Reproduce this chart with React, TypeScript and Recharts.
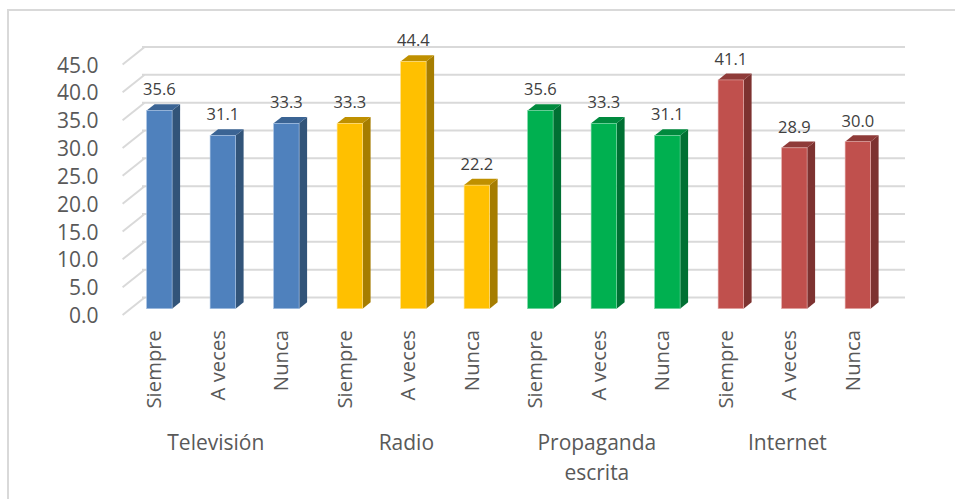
import { BarChart, Bar, XAxis, YAxis, CartesianGrid, LabelList } from 'recharts';

const groups = ['Televisión', 'Radio', 'Propaganda escrita', 'Internet'];
const answers = ['Siempre', 'A veces', 'Nunca'];
const values = [35.6, 31.1, 33.3, 33.3, 44.4, 22.2, 35.6, 33.3, 31.1, 41.1, 28.9, 30.0];
const yTicks = [0, 5, 10, 15, 20, 25, 30, 35, 40, 45];

const frontColors = ['#4F81BD', '#FFC000', '#00B050', '#C0504D'];
const sideColors = ['#325479', '#A67D00', '#007033', '#7D3230'];
const topColors = ['#3B6494', '#BF9000', '#008A3E', '#8F3B39'];
const edgeColors = ['#A9C4E4', '#FFE08A', '#7FD8A8', '#E6B0AE'];

const chartData = values.map((value, i) => ({
    name: `${groups[Math.floor(i / 3)]} ${answers[i % 3]}`,
    answer: answers[i % 3],
    group: groups[Math.floor(i / 3)],
    value,
}));

// the fake 3d look: library scale gives the back plane, front face sits lower
const DEPTH_X = 8;
const DEPTH_Y = 6.4;
const FRONT_SHIFT = 11.2;

function Bar3D({ x, y, width, height, index }: any) {
    const g = Math.floor(index / 3);
    const top = y + FRONT_SHIFT;
    const right = x + width;
    const bottom = top + height;
    return (
        <g>
            <polygon
                points={`${right},${top} ${right + DEPTH_X},${top - DEPTH_Y} ${right + DEPTH_X},${bottom - DEPTH_Y} ${right},${bottom}`}
                fill={sideColors[g]}
            />
            <polygon
                points={`${x},${top} ${x + DEPTH_X},${top - DEPTH_Y} ${right + DEPTH_X},${top - DEPTH_Y} ${right},${top}`}
                fill={topColors[g]}
            />
            <rect x={x} y={top} width={width} height={height} fill={frontColors[g]} stroke={edgeColors[g]} strokeWidth={0.6} />
        </g>
    );
}

function GridLine({ x1, x2, y1 }: any) {
    return <line x1={x1 + 14.4} x2={x2 + 15.4} y1={y1} y2={y1} stroke="#D9D9D9" strokeWidth={2} />;
}

function ValueTick({ x, y, payload }: any) {
    return (
        <g>
            <line x1={x + 3} y1={y + 17.5} x2={x + 25} y2={y} stroke="#D9D9D9" strokeWidth={2} />
            <text x={x - 21} y={y + 17.5} textAnchor="end" dominantBaseline="central" fontSize={21} fill="#595959">
                {payload.value.toFixed(1)}
            </text>
        </g>
    );
}

function AnswerTick({ x, payload }: any) {
    return (
        <text transform={`translate(${x + 2},330) rotate(-90)`} textAnchor="end" fontSize={20.3} fill="#595959">
            {payload.value}
        </text>
    );
}

function GroupTick({ x, payload }: any) {
    return (
        <text textAnchor="middle" fontSize={21} fill="#595959">
            {String(payload.value)
                .split(' ')
                .map((line, i) => (
                    <tspan key={line} x={x - 7} y={450 + i * 30}>
                        {line}
                    </tspan>
                ))}
        </text>
    );
}

function ValueLabel({ x, y, width, value }: any) {
    return (
        <text x={x + width / 2} y={y - 10.5} textAnchor="middle" dominantBaseline="central" fontSize={16.5} fill="#404040">
            {Number(value).toFixed(1)}
        </text>
    );
}

export default function App() {
    return (
        <div style={{ position: 'fixed', left: 0, top: 0, width: 955, height: 499, overflow: 'hidden', background: '#fff', fontFamily: '"Open Sans", sans-serif' }}>
            <div style={{ position: 'absolute', left: 7, top: 9, width: 1000, height: 600, border: '2px solid #D9D9D9', boxSizing: 'border-box' }} />
            <div style={{ position: 'absolute', left: 0, top: 0 }}>
                <BarChart
                    width={955}
                    height={499}
                    data={chartData}
                    margin={{ top: 47, right: 65.4, bottom: 0, left: 0 }}
                    barSize={25.5}
                >
                    <CartesianGrid vertical={false} horizontal={(props: any) => <GridLine key={props.y1} {...props} />} />
                    <XAxis dataKey="name" xAxisId={0} interval={0} height={120} axisLine={false} tickLine={false} tick={(props: any) => <AnswerTick {...props} payload={{ value: answers[props.index % 3] }} />} />
                    <XAxis dataKey="group" xAxisId="group" allowDuplicatedCategory={false} interval={0} height={81.5} axisLine={false} tickLine={false} tick={GroupTick} />
                    <YAxis domain={[0, 45]} ticks={yTicks} width={127.6} axisLine={false} tickLine={false} tick={ValueTick} />
                    <Bar dataKey="value" isAnimationActive={false} shape={Bar3D}>
                        <LabelList dataKey="value" content={ValueLabel} />
                    </Bar>
                </BarChart>
            </div>
        </div>
    );
}
